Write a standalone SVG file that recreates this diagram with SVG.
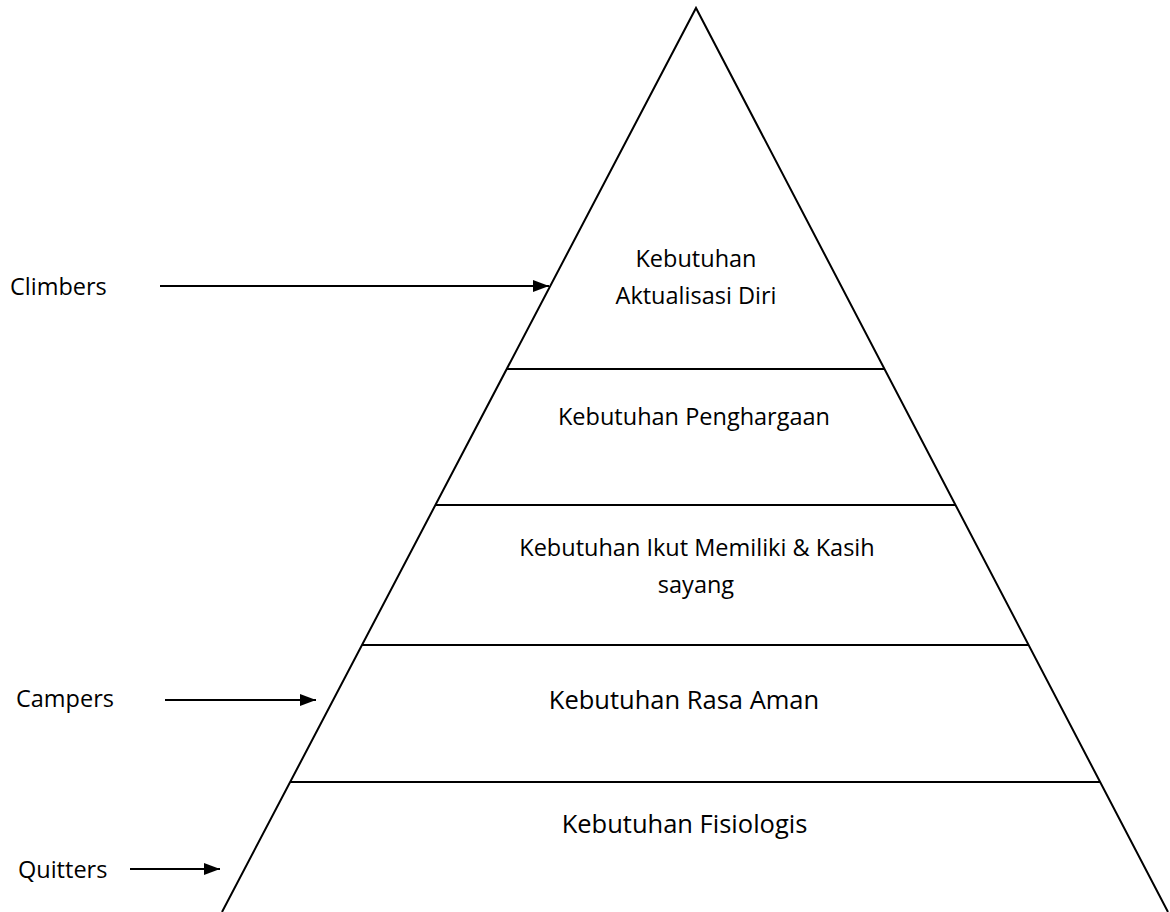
<svg xmlns="http://www.w3.org/2000/svg" width="1170" height="912" viewBox="0 0 1170 912">
<style>
.ln{stroke:#000;stroke-width:2;fill:none}
.t{font-family:"Open Sans","Noto Sans",sans-serif;font-size:23.5px;fill:#000}
.tl{font-family:"Open Sans","Noto Sans",sans-serif;font-size:25.5px;fill:#000}
.c{text-anchor:middle}
</style>
<defs>
<marker id="ah" markerWidth="8" markerHeight="6" refX="8" refY="3" orient="auto" markerUnits="strokeWidth">
<path d="M0,0 L8,3 L0,6 Z" fill="#000"/>
</marker>
</defs>
<rect width="1170" height="912" fill="#fff"/>
<g id="pyramid">
<polyline class="ln" points="222,912 696,8 1168,912"/>
</g>
<g id="level1"><line class="ln" x1="506.7" y1="369" x2="884.5" y2="369"/>
<text class="t c" x="696" y="267">Kebutuhan</text>
<text class="t c" x="696" y="304">Aktualisasi Diri</text></g>
<g id="level2"><line class="ln" x1="435.4" y1="505" x2="955.4" y2="505"/>
<text class="t c" x="694" y="425">Kebutuhan Penghargaan</text></g>
<g id="level3"><line class="ln" x1="362" y1="645" x2="1028.5" y2="645"/>
<text class="t c" x="697" y="556">Kebutuhan Ikut Memiliki &amp; Kasih</text>
<text class="t c" x="696" y="593">sayang</text></g>
<g id="level4"><line class="ln" x1="290.2" y1="782" x2="1100" y2="782"/>
<text class="tl c" x="684" y="709">Kebutuhan Rasa Aman</text></g>
<g id="level5">
<text class="tl c" x="684.5" y="833">Kebutuhan Fisiologis</text></g>
<g id="labels">
<text class="t" x="10" y="295">Climbers</text>
<text class="t" x="16" y="707">Campers</text>
<text class="t" x="18" y="878">Quitters</text>
</g>
<g id="connectors">
<line class="ln" x1="160" y1="286" x2="549" y2="286" marker-end="url(#ah)"/>
<line class="ln" x1="165" y1="700" x2="316" y2="700" marker-end="url(#ah)"/>
<line class="ln" x1="130" y1="869" x2="220" y2="869" marker-end="url(#ah)"/>
</g>
</svg>
